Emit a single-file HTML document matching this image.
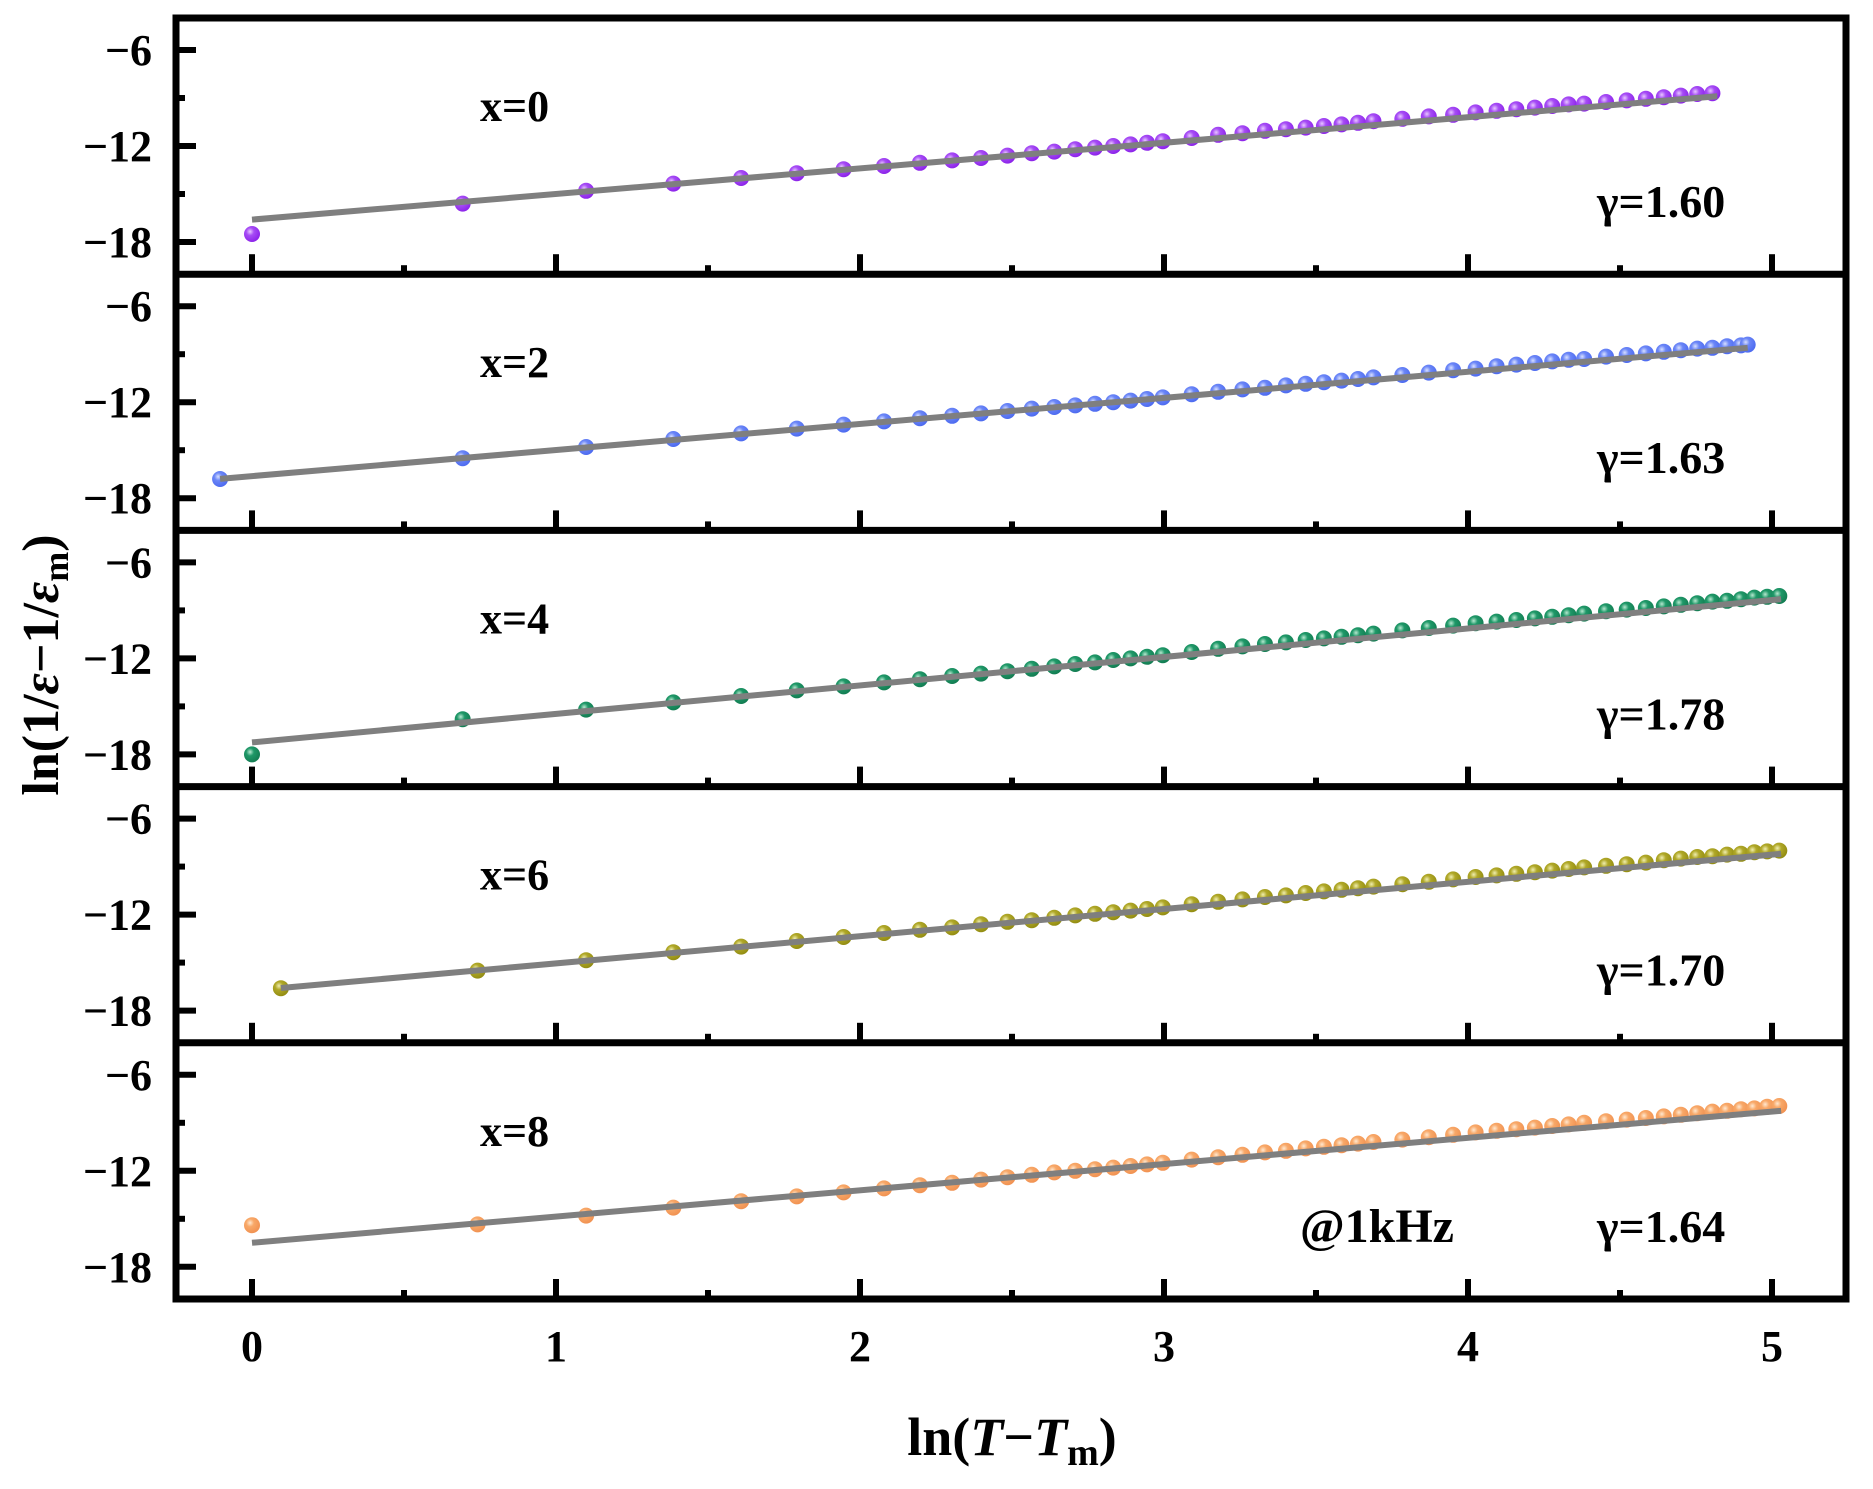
<!DOCTYPE html>
<html><head><meta charset="utf-8"><style>
html,body{margin:0;padding:0;background:#fff;}
svg{display:block;font-family:"Liberation Serif",serif;font-weight:bold;}
</style></head><body>
<svg id="chart" width="1873" height="1489" viewBox="0 0 1873 1489" xmlns="http://www.w3.org/2000/svg">
<defs>
<radialGradient id="g0" cx="0.38" cy="0.35" r="0.7"><stop offset="0" stop-color="#e8c8ff"/><stop offset="0.35" stop-color="#a64cf5"/><stop offset="1" stop-color="#8a20e8"/></radialGradient>
<radialGradient id="g1" cx="0.38" cy="0.35" r="0.7"><stop offset="0" stop-color="#d8e0ff"/><stop offset="0.35" stop-color="#6b86f7"/><stop offset="1" stop-color="#4a68ef"/></radialGradient>
<radialGradient id="g2" cx="0.38" cy="0.35" r="0.7"><stop offset="0" stop-color="#b8e8d0"/><stop offset="0.35" stop-color="#1f9868"/><stop offset="1" stop-color="#127a50"/></radialGradient>
<radialGradient id="g3" cx="0.38" cy="0.35" r="0.7"><stop offset="0" stop-color="#f0eeb0"/><stop offset="0.35" stop-color="#b0a828"/><stop offset="1" stop-color="#908a10"/></radialGradient>
<radialGradient id="g4" cx="0.38" cy="0.35" r="0.7"><stop offset="0" stop-color="#ffe8d0"/><stop offset="0.35" stop-color="#f8a868"/><stop offset="1" stop-color="#f09050"/></radialGradient>
</defs>
<g id="plot"></g>
<text transform="translate(58,665) rotate(-90)" text-anchor="middle" font-size="52">ln(1/<tspan font-style="italic">ε</tspan>−1/<tspan font-style="italic">ε</tspan><tspan font-size="36" dy="10">m</tspan><tspan dy="-10">)</tspan></text>
<text x="1012" y="1455" text-anchor="middle" font-size="54">ln(<tspan font-style="italic">T</tspan>−<tspan font-style="italic">T</tspan><tspan font-size="38" dy="10">m</tspan><tspan dy="-10">)</tspan></text>
</svg>
<script>
const NS="http://www.w3.org/2000/svg";
// data
const xTicks=[0,1,2,3,4,5];
const xTickLabels=["0","1","2","3","4","5"];
const yTicks=[-6,-12,-18];
const yTickLabels=["−6","−12","−18"];
const yMinor=[-9,-15];
const seriesNames=["x=0","x=2","x=4","x=6","x=8"];
const gammaLabels=["γ=1.60","γ=1.63","γ=1.78","γ=1.70","γ=1.64"];
const gridTail=[1.099,1.386,1.609,1.792,1.946,2.079,2.197,2.303,2.398,2.485,2.565,2.639,2.708,2.773,2.833,2.890,2.944,2.996,3.091,3.178,3.258,3.332,3.401,3.466,3.526,3.584,3.638,3.689,3.784,3.871,3.951,4.025,4.094,4.159,4.220,4.277,4.331,4.382,4.454,4.522,4.585,4.644,4.700,4.754,4.804,4.852,4.898,4.942,4.984,5.024];
const x0=[0,0.693].concat(gridTail.slice(0,45));
const x2=[-0.105,0.693].concat(gridTail.slice(0,47),[4.920]);
const x4=[0,0.693].concat(gridTail);
const x6=[0.095,0.742].concat(gridTail);
const x8=[0,0.742].concat(gridTail);
const y0=[-17.5,-15.6,-14.8,-14.35,-14.0,-13.7,-13.45,-13.25,-13.05,-12.9,-12.75,-12.6,-12.45,-12.35,-12.2,-12.1,-12.0,-11.9,-11.8,-11.7,-11.5,-11.3,-11.2,-11.05,-10.95,-10.85,-10.75,-10.65,-10.55,-10.45,-10.3,-10.15,-10.05,-9.9,-9.8,-9.7,-9.6,-9.5,-9.4,-9.35,-9.25,-9.15,-9.05,-8.95,-8.85,-8.75,-8.7];
const y2=[-16.8,-15.5,-14.8,-14.3,-13.95,-13.65,-13.4,-13.2,-13.0,-12.85,-12.7,-12.55,-12.4,-12.3,-12.2,-12.1,-12.0,-11.9,-11.8,-11.7,-11.5,-11.35,-11.2,-11.1,-10.95,-10.85,-10.75,-10.65,-10.55,-10.45,-10.3,-10.15,-10.0,-9.9,-9.75,-9.65,-9.55,-9.45,-9.35,-9.3,-9.15,-9.05,-8.95,-8.85,-8.75,-8.65,-8.6,-8.5,-8.45,-8.4];
const y4=[-18.0,-15.8,-15.2,-14.75,-14.35,-14.0,-13.75,-13.5,-13.3,-13.1,-12.95,-12.8,-12.65,-12.5,-12.35,-12.25,-12.1,-12.0,-11.9,-11.8,-11.6,-11.4,-11.25,-11.1,-11.0,-10.85,-10.75,-10.65,-10.55,-10.45,-10.25,-10.1,-9.95,-9.8,-9.7,-9.6,-9.5,-9.4,-9.3,-9.2,-9.05,-8.95,-8.85,-8.75,-8.65,-8.55,-8.45,-8.4,-8.3,-8.2,-8.15,-8.1];
const y6=[-16.6,-15.5,-14.85,-14.35,-14.0,-13.65,-13.4,-13.15,-12.95,-12.8,-12.6,-12.45,-12.35,-12.2,-12.05,-11.95,-11.85,-11.75,-11.65,-11.55,-11.35,-11.2,-11.05,-10.9,-10.8,-10.65,-10.55,-10.45,-10.35,-10.25,-10.1,-9.95,-9.8,-9.65,-9.55,-9.45,-9.35,-9.25,-9.15,-9.05,-8.95,-8.85,-8.75,-8.6,-8.5,-8.4,-8.35,-8.25,-8.2,-8.1,-8.05,-8.0];
const y8=[-15.4,-15.35,-14.8,-14.3,-13.9,-13.6,-13.35,-13.1,-12.9,-12.75,-12.55,-12.4,-12.25,-12.1,-12.0,-11.9,-11.8,-11.7,-11.6,-11.5,-11.3,-11.15,-11.0,-10.85,-10.75,-10.6,-10.5,-10.4,-10.3,-10.2,-10.05,-9.9,-9.75,-9.6,-9.5,-9.4,-9.3,-9.2,-9.1,-9.0,-8.9,-8.8,-8.7,-8.6,-8.5,-8.4,-8.3,-8.25,-8.15,-8.1,-8.0,-7.95];
const fitIntercept=[-16.6,-16.62,-17.25,-16.75,-16.5];
const fitSlope=[1.60,1.63,1.78,1.70,1.64];
const fitStart=[0,-0.105,0,0.095,0];
const fitEnd=[4.82,4.92,5.03,5.03,5.03];
const xsAll=[x0,x2,x4,x6,x8];
const ysAll=[y0,y2,y4,y6,y8];

const L=176,R=1846,T=18,B=1299,nP=5,PH=(B-T)/nP;
const X=v=>252+v*304;
const Y=(p,v)=>T+p*PH+(-4-v)*16;
const plot=document.getElementById('plot');
function mk(tag,attrs,parent){const e=document.createElementNS(NS,tag);for(const k in attrs)e.setAttribute(k,attrs[k]);(parent||plot).appendChild(e);return e;}

for(let p=0;p<nP;p++){
  const g=mk('g',{});
  
  
  const top=T+p*PH, bot=top+PH;
  const fl=mk('line',{x1:X(fitStart[p]),y1:Y(p,fitIntercept[p]+fitSlope[p]*fitStart[p]),x2:X(fitEnd[p]),y2:Y(p,fitIntercept[p]+fitSlope[p]*fitEnd[p]),stroke:'#7f7f7f','stroke-width':6},g);
  const xs=xsAll[p], ys=ysAll[p];
  const n=Math.min(xs.length,ys.length);
  for(let i=0;i<n;i++){
    const c=mk('circle',{cx:X(xs[i]),cy:Y(p,ys[i]),r:8,fill:'url(#g'+p+')'},g);
    
    
  }
  
  
  g.appendChild(fl);
  yTicks.forEach((v,i)=>{
    mk('line',{x1:L,x2:L+20,y1:Y(p,v),y2:Y(p,v),stroke:'#000','stroke-width':6},g);
    const t=mk('text',{x:152,y:Y(p,v)+15,'text-anchor':'end','font-size':44},g);
    t.textContent=yTickLabels[i];
    
    
  });
  yMinor.forEach(v=>mk('line',{x1:L,x2:L+9,y1:Y(p,v),y2:Y(p,v),stroke:'#000','stroke-width':6},g));
  xTicks.forEach(v=>{
    mk('line',{x1:X(v),x2:X(v),y1:bot,y2:bot-20,stroke:'#000','stroke-width':6},g);
    if(v<5) mk('line',{x1:X(v+0.5),x2:X(v+0.5),y1:bot,y2:bot-9,stroke:'#000','stroke-width':6},g);
  });
  const sl=mk('text',{x:480,y:top+103,'font-size':44},g);
  sl.textContent=seriesNames[p];
  
  
  const gl=mk('text',{x:1597,y:top+199,'font-size':46},g);
  gl.textContent=gammaLabels[p];
  
  
  if(p>0){const s=mk('line',{x1:L,x2:R,y1:top,y2:top,stroke:'#000','stroke-width':7});
    
    }
}
const fr=mk('rect',{x:L,y:T,width:R-L,height:B-T,fill:'none',stroke:'#000','stroke-width':7});


const fq=mk('text',{x:1300,y:T+4*PH+199,'font-size':48});
fq.textContent='@1kHz';


xTicks.forEach((v,i)=>{
  const t=mk('text',{x:X(v),y:1361,'text-anchor':'middle','font-size':44});
  t.textContent=xTickLabels[i];
  
  
});
</script>
</body></html>
